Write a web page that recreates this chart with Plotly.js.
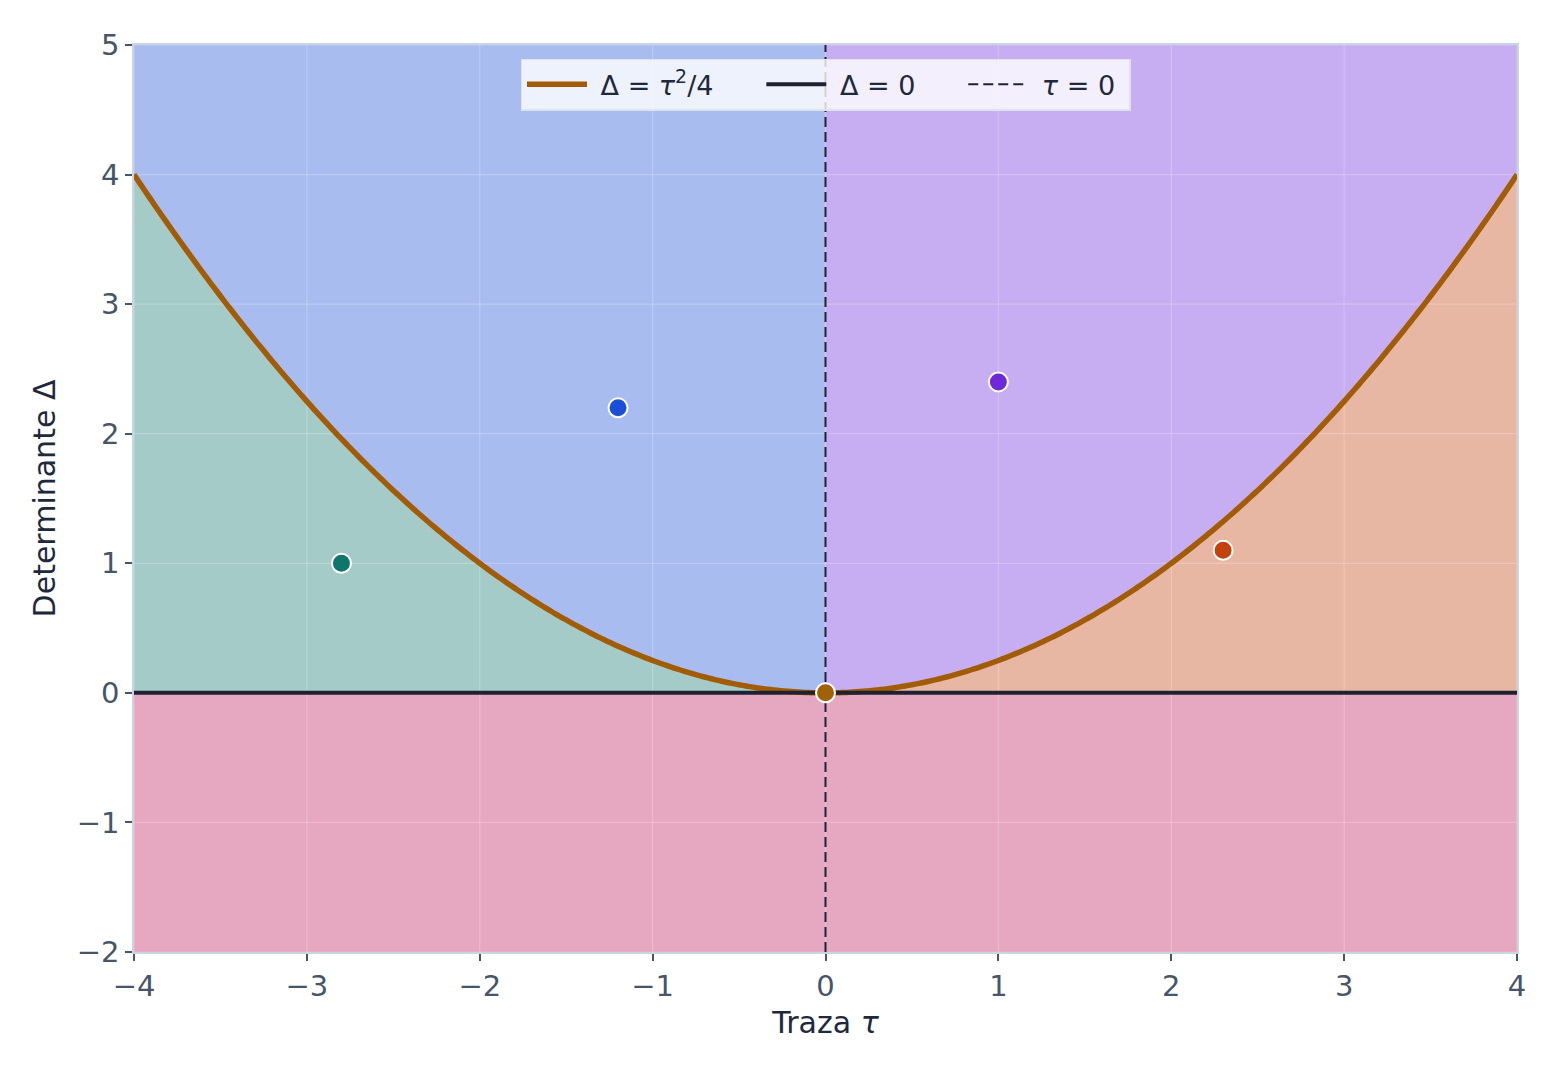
<!DOCTYPE html>
<html>
<head>
<meta charset="utf-8">
<script src="https://cdn.plot.ly/plotly-3.0.1.min.js"></script>
<style>body{margin:0;background:#fff}</style>
</head>
<body>
<div id="myDiv"></div>
<script>
// Rango del diagrama traza-determinante
var tauMin = -4, tauMax = 4;
var detMin = -2, detMax = 5;
var tickX = [-4, -3, -2, -1, 0, 1, 2, 3, 4];
var tickY = [-2, -1, 0, 1, 2, 3, 4, 5];

// Puntos de ejemplo (tau, det)
var ptTau = [-2.8, -1.2, 1.0, 2.3, 0.0];
var ptDet = [1.0, 2.2, 2.4, 1.1, 0.0];
var ptColor = ['#0f766e', '#1d4ed8', '#6d28d9', '#c2410c', '#a16207'];

// Parabola Delta = tau^2/4
var tauL = [], detL = [], tauR = [], detR = [];
for (var i = 0; i <= 200; i++) {
  var t = tauMin + i * 0.02;
  tauL.push(t); detL.push(t * t / 4);
  tauR.push(-t); detR.push(t * t / 4);
}
var tauAll = tauL.concat(tauR.slice().reverse().slice(1));
var detAll = detL.concat(detR.slice().reverse().slice(1));

function region(xs, ys, color) {
  return {x: xs, y: ys, mode: 'lines', fill: 'toself', fillcolor: color,
    line: {width: 0}, hoverinfo: 'skip', showlegend: false, type: 'scatter'};
}

// rejilla: entre los rellenos y las curvas
var gridX = [], gridY = [];
tickX.forEach(function (v) { gridX.push(v, v, null); gridY.push(detMin, detMax, null); });
tickY.forEach(function (v) { gridX.push(tauMin, tauMax, null); gridY.push(v, v, null); });

var sp = '&nbsp;';
var alpha = 0.38;
var data = [
  // silla
  region([tauMin, tauMax, tauMax, tauMin], [detMin, detMin, 0, 0], 'rgba(190,24,93,' + alpha + ')'),
  // nodo estable
  region(tauL.concat([0, tauMin]), detL.concat([0, 0]), 'rgba(15,118,110,' + alpha + ')'),
  // nodo inestable
  region(tauR.concat([0, tauMax]), detR.concat([0, 0]), 'rgba(194,65,12,' + alpha + ')'),
  // espiral estable
  region(tauL.concat([0, tauMin]), detL.concat([detMax, detMax]), 'rgba(29,78,216,' + alpha + ')'),
  // espiral inestable
  region(tauR.concat([0, tauMax]), detR.concat([detMax, detMax]), 'rgba(109,40,217,' + alpha + ')'),
  {x: gridX, y: gridY, mode: 'lines', line: {color: 'rgba(255,255,255,0.22)', width: 1.2},
   hoverinfo: 'skip', showlegend: false, type: 'scatter'},
  {x: tauAll, y: detAll, mode: 'lines', name: sp + 'Δ = <i>τ</i><sup>2</sup>/4' + sp + sp + sp + sp + sp,
   line: {color: '#a15c05', width: 5.5, simplify: false}, type: 'scatter'},
  {x: [tauMin, tauMax], y: [0, 0], mode: 'lines', name: sp + 'Δ = 0' + sp + sp + sp + sp + sp,
   line: {color: '#1e2230', width: 4}, type: 'scatter'},
  {x: [0, 0], y: [detMin, detMax], mode: 'lines', name: sp + '<i>τ</i> = 0' + sp,
   line: {color: '#1e2235', width: 2, dash: '10px,5px'}, type: 'scatter'},
  {x: ptTau, y: ptDet, mode: 'markers', showlegend: false,
   marker: {color: ptColor, size: 19, line: {color: '#ffffff', width: 2}}, type: 'scatter'}
];

var axisCommon = {
  showgrid: false, zeroline: false, showline: true, mirror: true,
  linecolor: '#cbd5e1', linewidth: 1.5,
  ticks: 'outside', ticklen: 7, tickwidth: 1.5, tickcolor: '#475569',
  tickfont: {family: 'DejaVu Sans', size: 29, color: '#475569'}
};

var layout = {
  width: 1561, height: 1071,
  margin: {l: 134, r: 44, t: 45, b: 119},
  paper_bgcolor: '#ffffff', plot_bgcolor: '#ffffff',
  font: {family: 'DejaVu Sans', color: '#1e293b'},
  xaxis: Object.assign({}, axisCommon, {range: [tauMin, tauMax], tickvals: tickX,
    title: {text: 'Traza <i>τ</i>', font: {family: 'DejaVu Sans', size: 30, color: '#1e293b'}, standoff: 10}}),
  yaxis: Object.assign({}, axisCommon, {range: [detMin, detMax], tickvals: tickY,
    title: {text: 'Determinante Δ', font: {family: 'DejaVu Sans', size: 30, color: '#1e293b'}, standoff: 12}}),
  showlegend: true,
  legend: {orientation: 'h', x: 0.5, xanchor: 'center', y: 0.985, yanchor: 'top',
    bgcolor: 'rgba(255,255,255,0.8)', bordercolor: '#dde3ec', borderwidth: 1.5,
    font: {family: 'DejaVu Sans', size: 27, color: '#1e293b'},
    itemwidth: 60}
};

Plotly.newPlot('myDiv', data, layout, {displayModeBar: false});
</script>
</body>
</html>
